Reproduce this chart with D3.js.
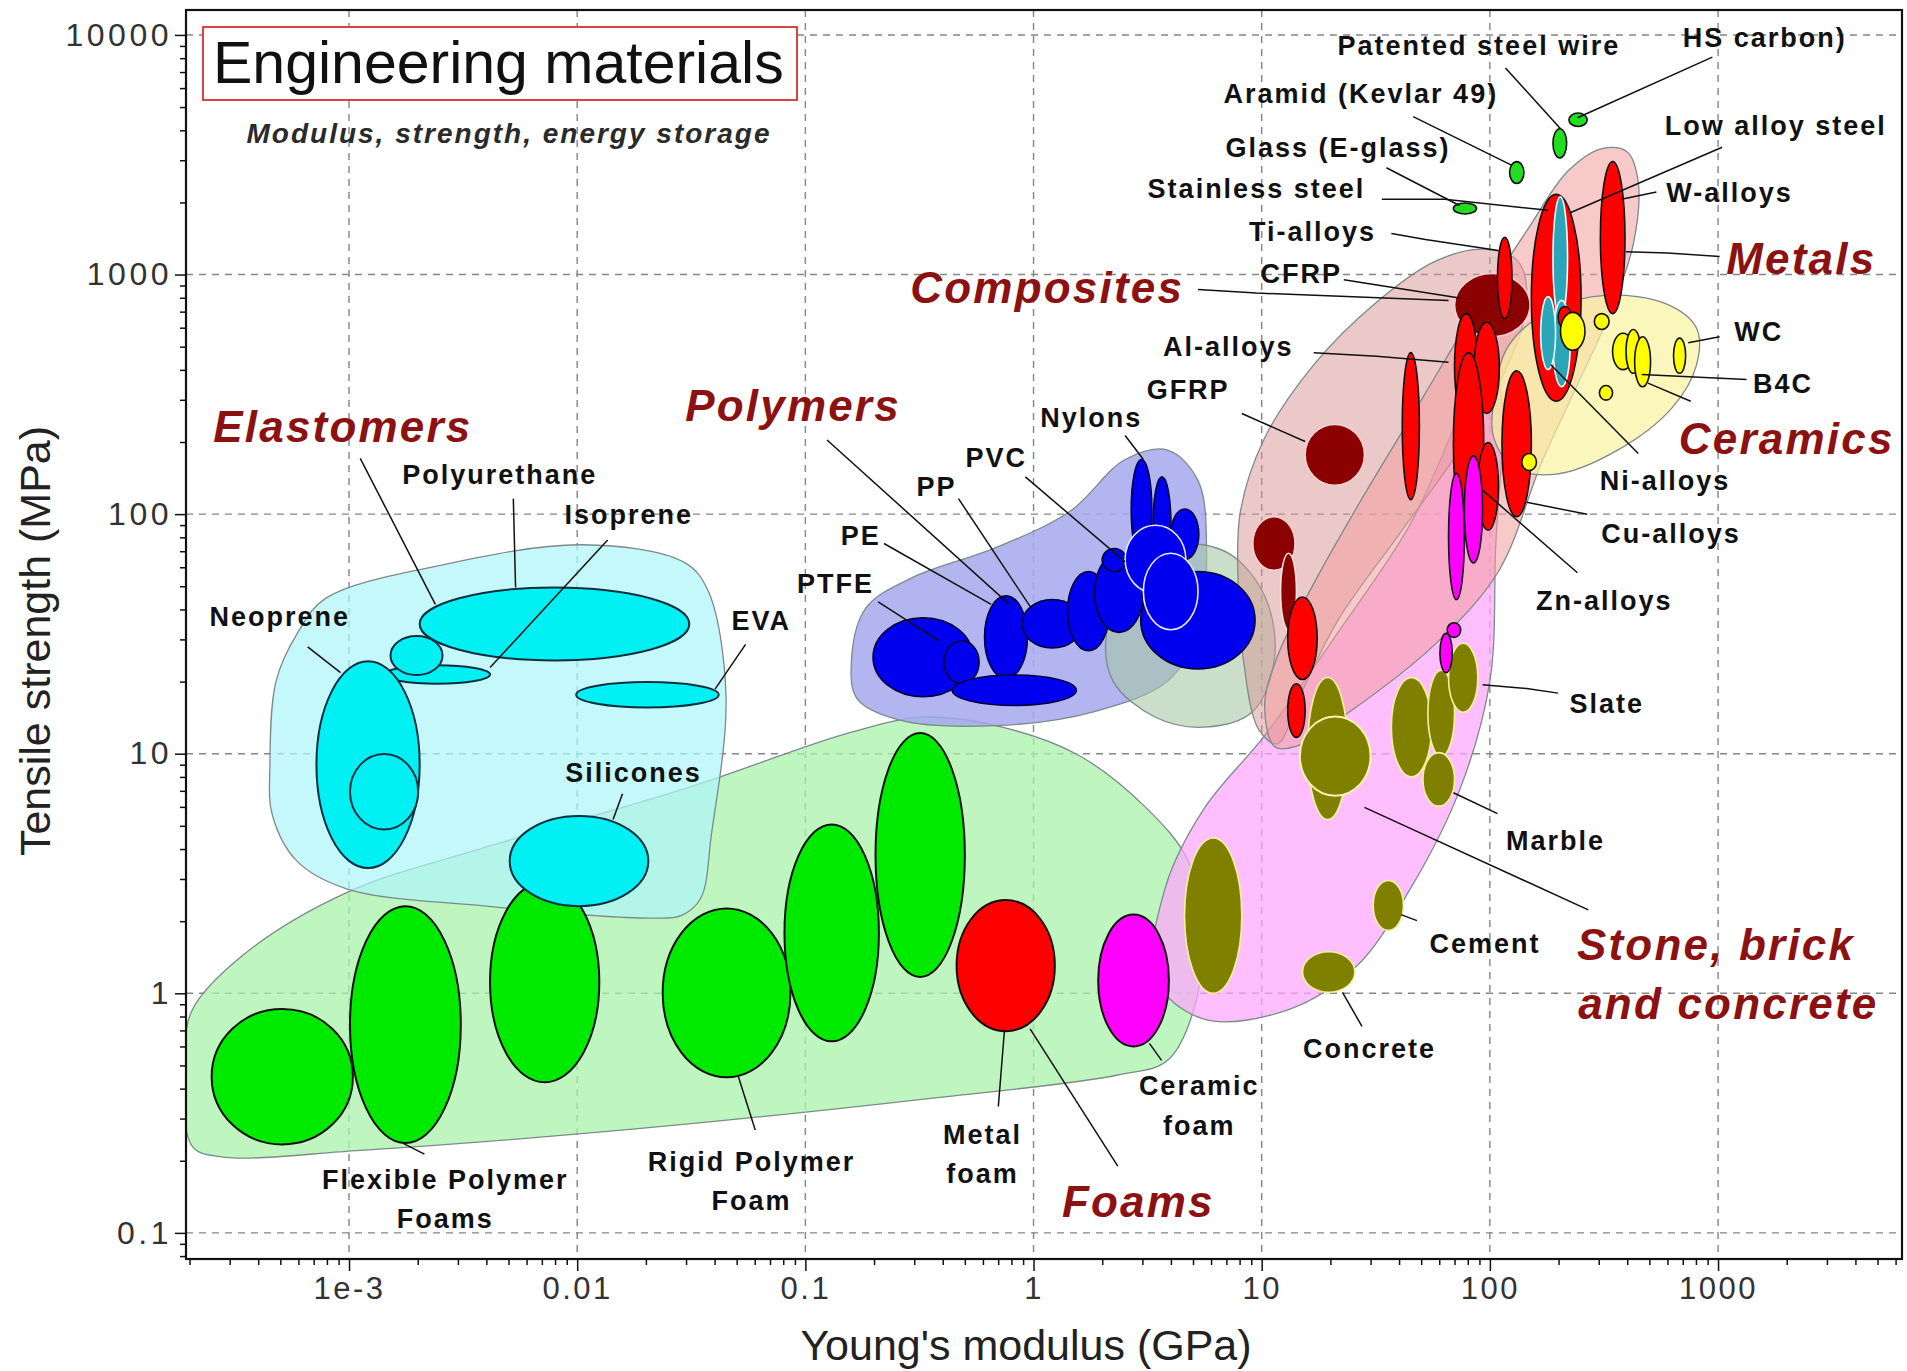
<!DOCTYPE html>
<html><head><meta charset="utf-8">
<script src="https://cdn.jsdelivr.net/npm/d3@7"></script>
<style>body{margin:0;background:#fff}</style>
</head><body>
<svg id="chart" width="1907" height="1371"></svg>
<script>
// ---------- axes ----------
const xDomain = [1.93e-4, 6400];
const yDomain = [0.0778, 12710];
const xTickValues = [1e-3, 0.01, 0.1, 1, 10, 100, 1000];
const xTickLabels = ["1e-3", "0.01", "0.1", "1", "10", "100", "1000"];
const yTickValues = [0.1, 1, 10, 100, 1000, 10000];
const yTickLabels = ["0.1", "1", "10", "100", "1000", "10000"];

// ---------- family envelopes [E (GPa), strength (MPa)] ----------
const foamEnvelope = [[2.05e-4,0.847],[3.36e-4,1.42],[9.76e-4,2.63],[4.63e-3,4.25],[0.0292,7.11],[0.159,12.3],[0.324,14.2],[0.661,13.2],[1.54,9.97],[3.10,5.97],[4.76,3.57],[5.45,1.79],[5.13,0.908],[3.87,0.525],[2.34,0.456],[0.324,0.361],[0.019,0.273],[1.12e-3,0.221],[2.72e-4,0.208],[2.05e-4,0.231],[1.91e-4,0.543]];
const elastomerEnvelope = [[4.5e-4,8.87],[4.79e-4,20.1],[5.97e-4,32.1],[7.92e-4,44.6],[2.51e-3,61.1],[0.01054,74.5],[0.0292,63.2],[0.0373,48.3],[0.0449,17.5],[0.0387,4.56],[0.0347,2.48],[0.0285,2.11],[0.021,2.06],[4.0e-3,2.31],[9.76e-4,2.73],[5.9e-4,3.57],[4.61e-4,5.56]];
const polymerEnvelope = [[0.159,24.0],[0.184,40.5],[0.294,54.3],[0.693,72.8],[1.45,103],[2.52,169],[3.87,185],[5.26,138],[5.73,72.8],[5.26,32.1],[3.87,20.1],[1.85,15.0],[0.693,13.1],[0.26,13.8],[0.169,16.9]];
const hybridEnvelope = [[2.09,32.1],[2.68,57.6],[4.37,74.5],[7.14,68.7],[10.3,45.6],[11.4,25.4],[9.14,15.0],[5.59,12.9],[3.42,14.2],[2.23,20.1]];
const stoneEnvelope = [[3.42,1.15],[3.78,2.76],[5.59,5.90],[10.3,11.9],[21.6,32.1],[45.1,91.9],[78.2,296],[100,472],[113,296],[106,72.8],[100,20.1],[73.6,7.03],[45.1,2.76],[25.9,1.29],[13.2,0.857],[5.59,0.780]];
const compositeEnvelope = [[7.88,51.3],[8.07,103],[10.3,208],[16.9,420],[31.2,754],[57.5,1135],[94.0,1276],[133,1135],[145,754],[120,420],[73.6,185],[39.8,81.8],[21.6,36.1],[14.9,17.9],[11.7,11.0],[9.71,12.6],[8.28,25.4]];
const metalEnvelope = [[11.4,10.7],[10.3,15.9],[11.7,25.4],[16.9,51.3],[27.5,116],[47.9,279],[83.2,670],[145,1520],[222,2730],[313,3365],[400,3250],[447,2427],[426,1352],[341,711],[251,374],[169,165],[109,57.6],[57.5,28.6],[24.4,15.0],[14.0,10.7]];
const ceramicEnvelope = [[104,296],[120,500],[185,711],[321,818],[593,754],[805,597],[805,420],[631,279],[363,185],[196,147],[128,156],[104,208]];

// ---------- material property ranges [name, Emin, Emax, Smin, Smax] ----------
const polymerFoams = [
  ["Flexible foam a", 2.5e-4, 1.04e-3, 0.234, 0.86],
  ["Flexible foam b", 1.01e-3, 3.09e-3, 0.237, 2.31],
  ["Flexible foam c", 4.15e-3, 0.0125, 0.425, 2.92],
  ["Rigid foam a", 0.0237, 0.086, 0.446, 2.26],
  ["Rigid foam b", 0.081, 0.21, 0.63, 5.07],
  ["Rigid foam c", 0.203, 0.50, 1.17, 12.2]
];
const metalFoams = [["Metal foam", 0.46, 1.24, 0.695, 2.45]];
const ceramicFoams = [["Ceramic foam", 1.92, 3.92, 0.60, 2.13]];
const elastomers = [
  ["Polyurethane", 2.04e-3, 0.031, 24.5, 49.4],
  ["Isoprene", 1.43e-3, 4.15e-3, 19.6, 23.4],
  ["Isoprene b", 1.52e-3, 2.57e-3, 21.3, 31.0],
  ["Neoprene", 7.2e-4, 2.04e-3, 3.33, 24.3],
  ["Neoprene b", 1.01e-3, 2.01e-3, 4.83, 9.97],
  ["EVA", 9.9e-3, 0.0417, 15.6, 19.9],
  ["Silicones", 5.06e-3, 0.0205, 2.31, 5.5]
];
const polymers = [
  ["Phenolic", 2.95, 9.35, 22.6, 57.6],
  ["PTFE", 0.198, 0.543, 17.3, 36.9],
  ["PTFE b", 0.405, 0.577, 19.6, 29.6],
  ["PP", 0.61, 0.94, 20.6, 45.6],
  ["PE", 0.44, 1.54, 15.9, 21.3],
  ["PS", 0.89, 1.64, 27.6, 44],
  ["PC", 1.41, 2.15, 26.9, 57.6],
  ["PMMA", 1.85, 3.03, 32.1, 68.7],
  ["Nylon a", 2.68, 3.3, 64.7, 169],
  ["Nylon b", 3.34, 4.0, 57.6, 143],
  ["Epoxy", 4.0, 5.3, 64.7, 105],
  ["PVC", 2.0, 2.55, 57.6, 71.9]
];
const polymersOutlined = [
  ["PET", 2.52, 4.65, 46.7, 89.8],
  ["Polyester", 3.03, 5.26, 32.9, 68.7]
];
const composites = [
  ["CFRP", 70, 150, 550, 1010],
  ["GFRP", 15.5, 28.2, 132, 237],
  ["Composite a", 9.14, 14, 58.3, 97.5]
];
const compositesOutlined = [
  ["Composite b", 12.1, 14.2, 32.9, 68.7],
  ["Composite c", 83.2, 100, 279, 365]
];
const metals = [
  ["Ti-alloys", 108, 125, 655, 1430],
  ["Al-alloys a", 70, 88.5, 248, 687],
  ["Al-alloys b", 85.3, 110, 263, 632],
  ["Al-alloys c", 69.2, 94, 81.8, 472],
  ["Al-alloys d", 88.5, 109, 85.7, 199],
  ["Mg-alloys", 41.3, 49.1, 115, 472],
  ["Cu-alloys", 113, 152, 97.5, 396],
  ["Low alloy steel", 152, 251, 296, 2160],
  ["W-alloys", 305, 391, 687, 2960],
  ["Lead a", 13, 17.5, 20.4, 45.1],
  ["Lead b", 13, 15.5, 11.7, 19.6]
];
const nickelAlloys = [
  ["Ni-alloys a", 189, 219, 647, 2110],
  ["Ni-alloys b", 189, 225, 340, 780],
  ["Ni-alloys c", 167, 194, 401, 809]
];
const metalsTop = [["Stainless steel", 199, 228, 597, 736]];
const stones = [
  ["Stone a", 15.9, 23.8, 5.31, 20.8],
  ["Stone b", 37, 55.5, 8.0, 20.8],
  ["Stone c", 53.5, 70, 9.75, 22.3],
  ["Slate", 65.9, 88.5, 14.9, 28.9],
  ["Marble", 50.9, 70, 6.04, 10.1],
  ["Brick", 4.59, 8.18, 1.0, 4.45],
  ["Cement", 30.8, 41.8, 1.83, 2.96],
  ["Concrete", 15.1, 25.6, 1.01, 1.49]
];
const stonesOutlined = [["Granite", 14.7, 30, 6.68, 14.3]];
const zincAlloys = [
  ["Zn-alloys a", 65.9, 77.3, 44, 148],
  ["Zn-alloys b", 77.3, 92.9, 62.5, 175],
  ["Glass ceramic a", 60.4, 68.4, 21.8, 31.8],
  ["Glass ceramic b", 65, 74.5, 30.6, 35.2]
];
const ceramics = [
  ["Ceramic a", 204, 261, 483, 695],
  ["Ceramic b", 287, 333, 590, 687],
  ["Ceramic c", 345, 426, 401, 569],
  ["Ceramic d", 395, 458, 387, 590],
  ["Ceramic e", 431, 506, 340, 550],
  ["WC", 638, 721, 387, 543],
  ["Ceramic f", 302, 345, 299, 344],
  ["Ceramic g", 138, 160, 152, 179]
];
const fibres = [
  ["Glass (E-glass)", 69.2, 87.4, 1790, 1990],
  ["Aramid (Kevlar 49)", 122, 141, 2400, 2960],
  ["Patented steel wire", 189, 217, 3070, 4060],
  ["HS carbon", 222, 267, 4150, 4720]
];

// ---------- annotations [text, E, S] ----------
const materialLabels = [
  ["Patented steel wire", 89.5, 9090], ["HS carbon)", 1603, 9750],
  ["Aramid (Kevlar 49)", 27.2, 5690], ["Low alloy steel", 1790, 4200],
  ["Glass (E-glass)", 21.6, 3400], ["Stainless steel", 9.48, 2287],
  ["W-alloys", 1122, 2210], ["Ti-alloys", 16.7, 1520], ["CFRP", 14.9, 1009],
  ["WC", 1507, 582], ["Al-alloys", 7.14, 500], ["B4C", 1927, 352],
  ["GFRP", 4.76, 333], ["Nylons", 1.79, 254], ["Ni-alloys", 586, 138],
  ["PVC", 0.686, 173], ["PP", 0.376, 131], ["PE", 0.175, 81.8], ["PTFE", 0.1355, 51.3],
  ["Cu-alloys", 622, 82.8], ["Zn-alloys", 317, 43.5], ["Slate", 325, 16.3],
  ["Marble", 194, 4.35], ["Cement", 95.3, 1.61], ["Concrete", 29.7, 0.590],
  ["Ceramic", 5.32, 0.415], ["foam", 5.32, 0.282],
  ["Metal", 0.598, 0.257], ["foam", 0.598, 0.177],
  ["Rigid Polymer", 0.0581, 0.199], ["Foam", 0.0581, 0.137],
  ["Flexible Polymer", 2.64e-3, 0.167], ["Foams", 2.64e-3, 0.115],
  ["Silicones", 0.01766, 8.37], ["EVA", 0.0641, 36.1], ["Neoprene", 4.97e-4, 37.4],
  ["Polyurethane", 4.58e-3, 147], ["Isoprene", 0.01683, 99.8]
];
const familyLabels = [
  ["Elastomers", 9.4e-4, 234], ["Polymers", 0.0883, 286], ["Composites", 1.148, 887],
  ["Metals", 2317, 1175], ["Ceramics", 2000, 208], ["Stone, brick", 980, 1.60],
  ["and concrete", 1109, 0.908], ["Foams", 2.88, 0.136]
];
const leaders = [
  [[117,7280],[204,4060]], [[944,8080],[242,4510]], [[46.1,4560],[125,2857]],
  [[35.2,2790],[73.6,1942]], [[33.6,2060],[63.5,2060],[180,1853]],
  [[1042,3400],[225,1810]], [[537,2210],[377,2060]],
  [[37.0,1485],[52.2,1400],[109,1260]], [[395,1245],[600,1231],[1016,1189]],
  [[22.9,952],[73.6,799]], [[5.26,867],[9.48,837],[65.9,780]],
  [[740,519],[1016,550]], [[16.9,472],[31.9,456],[65.9,430]],
  [[463,383],[1334,365]], [[493,352],[759,296]], [[185,420],[447,179]],
  [[8.18,263],[15.5,201]], [[145,112],[267,99.8]], [[92.9,126],[242,56.9]],
  [[92.9,19.4],[145,18.7],[199,17.9]], [[69.2,6.87],[108,5.62]],
  [[28.2,5.97],[270,2.23]], [[40.8,2.13],[47.9,2.01]], [[22.6,1.01],[27.5,0.728]],
  [[3.22,0.618],[3.64,0.525]], [[0.746,0.704],[0.701,0.337]], [[0.966,0.711],[2.34,0.190]],
  [[0.0508,0.451],[0.0603,0.269]], [[1.72e-3,0.237],[2.14e-3,0.213]],
  [[0.0158,6.8],[0.01436,5.31]], [[0.0547,28.6],[0.0402,18.6]],
  [[6.59e-4,27.9],[9.18e-4,21.8]], [[5.25e-3,116],[5.37e-3,49.4]],
  [[1.12e-3,171],[2.39e-3,42.0]], [[0.0136,78.0],[4.15e-3,22.9]],
  [[0.1245,204],[0.783,42.0]], [[0.469,116],[0.977,40.5]], [[0.921,143],[2.52,63.2]],
  [[2.52,213],[3.03,169]], [[0.221,75.4],[0.652,42.0]], [[0.2085,43.0],[0.385,29.6]]
];

// ---------- drawing ----------
const plot = {left: 186, right: 1902, top: 10, bottom: 1259};
const svg = d3.select("#chart");
const x = d3.scaleLog().domain(xDomain).range([plot.left, plot.right]);
const y = d3.scaleLog().domain(yDomain).range([plot.bottom, plot.top]);
const FONT = "'Liberation Sans', Arial, sans-serif";

svg.append("defs").append("clipPath").attr("id", "clip")
  .append("rect").attr("x", plot.left).attr("y", plot.top)
  .attr("width", plot.right - plot.left).attr("height", plot.bottom - plot.top);

// grid
const grid = svg.append("g").attr("stroke", "#858585").attr("stroke-width", 1.4)
  .attr("stroke-dasharray", "7,6");
grid.selectAll("line.v").data(xTickValues).join("line")
  .attr("x1", d => x(d)).attr("x2", d => x(d)).attr("y1", plot.top).attr("y2", plot.bottom);
grid.selectAll("line.h").data(yTickValues).join("line")
  .attr("y1", d => y(d)).attr("y2", d => y(d)).attr("x1", plot.left).attr("x2", plot.right);

const body = svg.append("g").attr("clip-path", "url(#clip)");
const env = d3.line().x(d => x(d[0])).y(d => y(d[1])).curve(d3.curveCatmullRomClosed.alpha(0.5));
function envelope(pts, fill, op) {
  body.append("path").datum(pts).attr("d", env).attr("fill", fill).attr("fill-opacity", op)
    .attr("stroke", "#7d8a8a").attr("stroke-width", 1.3);
}
envelope(foamEnvelope, "#aaf2aa", 0.75);
envelope(elastomerEnvelope, "#aef5f8", 0.72);
envelope(polymerEnvelope, "#a4a8ec", 0.85);
envelope(hybridEnvelope, "#a6c8a6", 0.6);
envelope(stoneEnvelope, "#ffa6ff", 0.72);
envelope(compositeEnvelope, "#d99494", 0.5);
envelope(metalEnvelope, "#f29c9c", 0.55);
envelope(ceramicEnvelope, "#f8f2a0", 0.7);

function cells(data, fill, stroke, sw) {
  body.append("g").selectAll("ellipse").data(data).join("ellipse")
    .attr("cx", d => x(Math.sqrt(d[1] * d[2])))
    .attr("cy", d => y(Math.sqrt(d[3] * d[4])))
    .attr("rx", d => (x(d[2]) - x(d[1])) / 2)
    .attr("ry", d => (y(d[3]) - y(d[4])) / 2)
    .attr("fill", fill).attr("stroke", stroke).attr("stroke-width", sw);
}
cells(polymerFoams, "#00ea00", "#111", 2);
cells(metalFoams, "#ff0000", "#111", 2);
cells(ceramicFoams, "#ff00ff", "#111", 2);
cells(elastomers, "#00f0f4", "#0a3040", 2);
cells(polymers, "#0000ee", "#00003a", 1.6);
cells(polymersOutlined, "#0000ee", "#e8e8ff", 1.6);
cells(composites, "#8b0000", "#f0d0d0", 1.6);
cells(compositesOutlined, "#8b0000", "#f4e0e0", 1.6);
cells(metals, "#ff0000", "#111", 1.6);
cells(nickelAlloys, "#2aa6b8", "#e8ffff", 1.6);
cells(metalsTop, "#ff0000", "#111", 1.4);
cells(stones, "#808000", "#f4f0a0", 1.6);
cells(stonesOutlined, "#808000", "#f8f4b0", 2);
cells(zincAlloys, "#ff00ff", "#111", 1.6);
cells(ceramics, "#ffff00", "#111", 1.6);
cells(fibres, "#22dd22", "#111", 1.6);

// leaders
const ln = d3.line().x(d => x(d[0])).y(d => y(d[1]));
body.append("g").selectAll("path").data(leaders).join("path")
  .attr("d", ln).attr("fill", "none").attr("stroke", "#111").attr("stroke-width", 1.5);

// labels
svg.append("g").selectAll("text").data(materialLabels).join("text")
  .attr("x", d => x(d[1])).attr("y", d => y(d[2])).attr("dy", "0.36em")
  .attr("text-anchor", "middle").attr("font-family", FONT).attr("font-weight", "bold")
  .attr("font-size", 27).attr("letter-spacing", 2.0).attr("fill", "#111").text(d => d[0]);
svg.append("g").selectAll("text").data(familyLabels).join("text")
  .attr("x", d => x(d[1])).attr("y", d => y(d[2])).attr("dy", "0.36em")
  .attr("text-anchor", "middle").attr("font-family", FONT).attr("font-weight", "bold")
  .attr("font-style", "italic").attr("font-size", 44).attr("letter-spacing", 2.2)
  .attr("fill", "#8c1212").text(d => d[0]);

// axes
function minorTicks(domain) {
  const out = [];
  for (let k = Math.floor(Math.log10(domain[0])); k <= Math.ceil(Math.log10(domain[1])); k++)
    for (let m = 2; m <= 9; m++) { const v = m * Math.pow(10, k); if (v >= domain[0] && v <= domain[1]) out.push(v); }
  return out;
}
const axX = svg.append("g").attr("transform", `translate(0,${plot.bottom})`);
axX.append("g").call(d3.axisBottom(x).tickValues(minorTicks(xDomain)).tickSize(6).tickFormat(""));
axX.append("g").call(d3.axisBottom(x).tickValues(xTickValues).tickSize(12).tickPadding(6)
  .tickFormat((d, i) => xTickLabels[i]));
const axY = svg.append("g").attr("transform", `translate(${plot.left},0)`);
axY.append("g").call(d3.axisLeft(y).tickValues(minorTicks(yDomain)).tickSize(6).tickFormat(""));
axY.append("g").call(d3.axisLeft(y).tickValues(yTickValues).tickSize(11).tickPadding(3)
  .tickFormat((d, i) => yTickLabels[i]));
svg.selectAll(".domain").remove();
svg.selectAll(".tick line").attr("stroke", "#111").attr("stroke-width", 1.5);
axX.selectAll(".tick text").attr("font-family", FONT).attr("font-size", 31)
  .attr("letter-spacing", 2.5).attr("fill", "#333");
axY.selectAll(".tick text").attr("font-family", FONT).attr("font-size", 32)
  .attr("letter-spacing", 3.5).attr("fill", "#333");

svg.append("rect").attr("x", plot.left).attr("y", plot.top)
  .attr("width", plot.right - plot.left).attr("height", plot.bottom - plot.top)
  .attr("fill", "none").attr("stroke", "#111").attr("stroke-width", 2.2);

svg.append("text").attr("x", 1026).attr("y", 1360).attr("text-anchor", "middle")
  .attr("font-family", FONT).attr("font-size", 43).attr("fill", "#222").text("Young's modulus (GPa)");
svg.append("text").attr("transform", "translate(50,641) rotate(-90)").attr("text-anchor", "middle")
  .attr("font-family", FONT).attr("font-size", 43).attr("fill", "#222").text("Tensile strength (MPa)");

// title box
svg.append("rect").attr("x", 203).attr("y", 27).attr("width", 594).attr("height", 73)
  .attr("fill", "#fff").attr("stroke", "#d23030").attr("stroke-width", 1.8);
svg.append("text").attr("x", 213).attr("y", 83).attr("font-family", FONT).attr("font-size", 59)
  .attr("fill", "#111").text("Engineering materials");
svg.append("text").attr("x", 509).attr("y", 143).attr("text-anchor", "middle").attr("font-family", FONT)
  .attr("font-size", 28).attr("letter-spacing", 2).attr("font-weight", "bold").attr("font-style", "italic")
  .attr("fill", "#2a2a2a").text("Modulus, strength, energy storage");
</script></body></html>
